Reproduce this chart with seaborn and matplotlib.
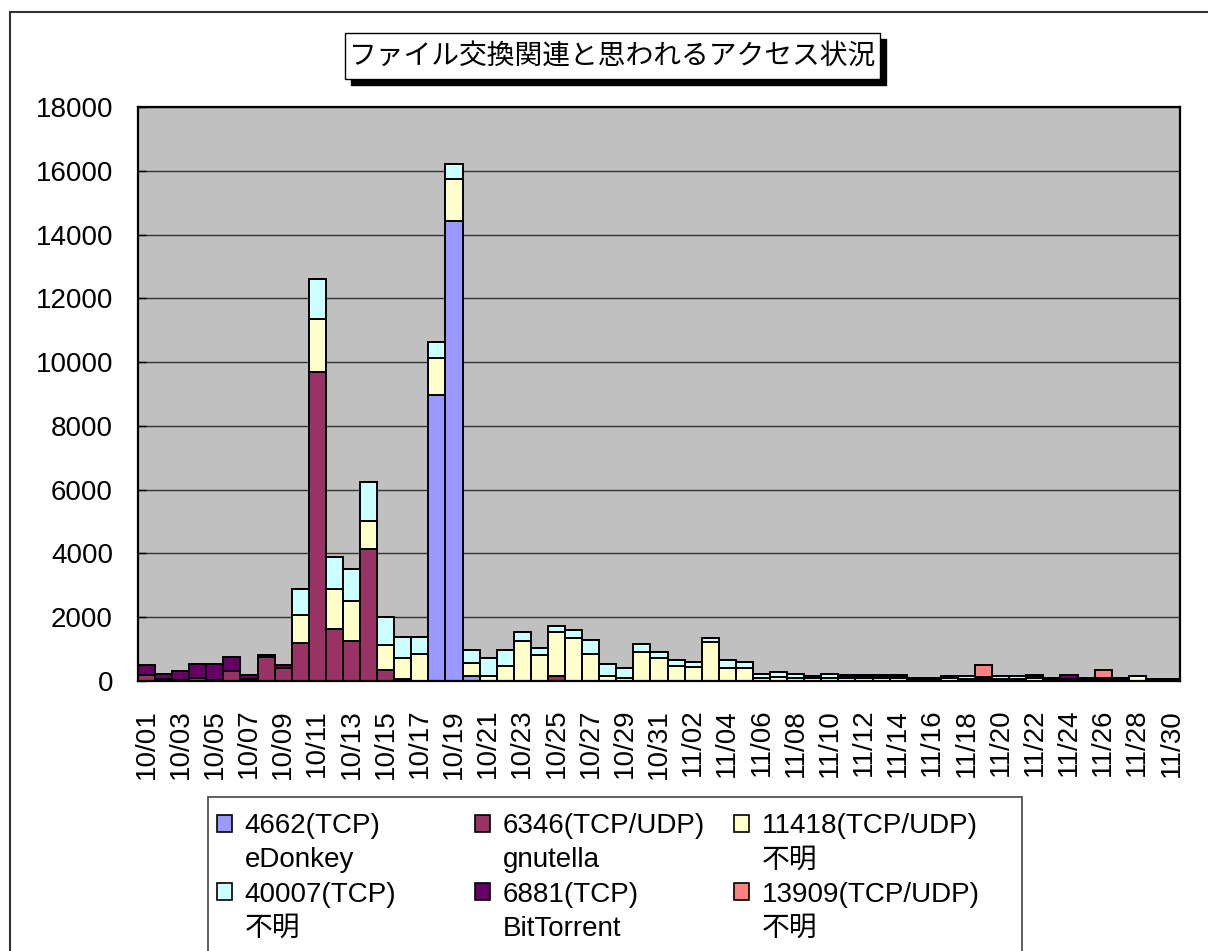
import matplotlib
matplotlib.use("Agg")
import matplotlib.pyplot as plt
from matplotlib.patches import Patch, Rectangle
from matplotlib.lines import Line2D
import numpy as np
import pandas as pd
import seaborn as sns

# ---------------- data ----------------
dates = ["10/01", "10/02", "10/03", "10/04", "10/05", "10/06", "10/07", "10/08", "10/09", "10/10",
         "10/11", "10/12", "10/13", "10/14", "10/15", "10/16", "10/17", "10/18", "10/19", "10/20",
         "10/21", "10/22", "10/23", "10/24", "10/25", "10/26", "10/27", "10/28", "10/29", "10/30",
         "10/31", "11/01", "11/02", "11/03", "11/04", "11/05", "11/06", "11/07", "11/08", "11/09",
         "11/10", "11/11", "11/12", "11/13", "11/14", "11/15", "11/16", "11/17", "11/18", "11/19",
         "11/20", "11/21", "11/22", "11/23", "11/24", "11/25", "11/26", "11/27", "11/28", "11/29",
         "11/30"]

edonkey_4662 = [0, 0, 0, 0, 0, 0, 0, 0, 0, 0,
                0, 0, 0, 0, 0, 0, 0, 8980, 14420, 160,
                0, 0, 0, 0, 0, 0, 0, 0, 0, 0,
                0, 0, 0, 0, 0, 0, 0, 0, 0, 0,
                0, 0, 0, 0, 0, 0, 0, 0, 0, 0,
                0, 0, 0, 0, 0, 0, 0, 0, 0, 0, 0]
gnutella_6346 = [180, 50, 20, 80, 30, 310, 60, 740, 420, 1180,
                 9700, 1620, 1250, 4150, 360, 60, 0, 0, 0, 0,
                 0, 0, 0, 0, 160, 0, 0, 0, 0, 0,
                 0, 0, 0, 0, 0, 0, 0, 0, 0, 0,
                 0, 0, 0, 0, 0, 0, 0, 0, 0, 0,
                 0, 0, 0, 0, 0, 0, 0, 0, 0, 0, 0]
unknown_11418 = [0, 0, 0, 0, 0, 0, 0, 0, 0, 880,
                 1640, 1270, 1260, 880, 780, 670, 860, 1150, 1320, 420,
                 160, 460, 1240, 800, 1390, 1350, 840, 170, 90, 920,
                 720, 460, 450, 1220, 420, 400, 90, 140, 80, 80,
                 80, 80, 80, 80, 80, 30, 30, 80, 60, 40,
                 50, 50, 80, 30, 30, 30, 30, 30, 170, 20, 20]
unknown_40007 = [0, 0, 0, 0, 0, 0, 0, 0, 0, 840,
                 1260, 1010, 1010, 1200, 880, 650, 520, 500, 460, 400,
                 570, 510, 310, 240, 190, 250, 450, 370, 320, 250,
                 200, 200, 150, 130, 240, 210, 120, 150, 140, 60,
                 150, 90, 90, 90, 90, 30, 30, 90, 100, 40,
                 100, 100, 90, 30, 30, 30, 30, 30, 0, 0, 0]
bittorrent_6881 = [310, 160, 290, 440, 490, 450, 130, 80, 90, 0,
                   0, 0, 0, 0, 0, 0, 0, 0, 0, 0,
                   0, 0, 0, 0, 0, 0, 0, 0, 0, 0,
                   0, 0, 0, 0, 0, 0, 0, 0, 0, 20,
                   0, 10, 10, 10, 10, 40, 40, 0, 0, 40,
                   0, 0, 10, 40, 120, 40, 40, 40, 0, 30, 30]
unknown_13909 = [0, 0, 0, 0, 0, 0, 0, 0, 0, 0,
                 0, 0, 0, 0, 0, 0, 0, 0, 0, 0,
                 0, 0, 0, 0, 0, 0, 0, 0, 0, 0,
                 0, 0, 0, 0, 0, 0, 0, 0, 0, 0,
                 0, 0, 0, 0, 0, 0, 0, 0, 0, 370,
                 0, 0, 0, 0, 0, 0, 260, 0, 0, 0, 0]

series_keys = ["4662", "6346", "11418", "40007", "6881", "13909"]
series_values = [edonkey_4662, gnutella_6346, unknown_11418, unknown_40007,
                 bittorrent_6881, unknown_13909]
series_line1 = ["4662(TCP)", "6346(TCP/UDP)", "11418(TCP/UDP)", "40007(TCP)",
                "6881(TCP)", "13909(TCP/UDP)"]
series_line2 = ["eDonkey", "gnutella", "不明", "不明", "BitTorrent", "不明"]
series_colors = ["#9999FF", "#993366", "#FFFFCC", "#CCFFFF", "#660066", "#FF8080"]

y_ticks = [0, 2000, 4000, 6000, 8000, 10000, 12000, 14000, 16000, 18000]
title = "ファイル交換関連と思われるアクセス状況"

# ---------------- build frame ----------------
rows = []
for key, vals in zip(series_keys, series_values):
    for i, v in enumerate(vals):
        rows.append({"idx": i, "value": v, "series": key})
df = pd.DataFrame(rows)

sns.set_theme(style="white")
plt.rcParams['font.family'] = ['Liberation Sans', 'Noto Sans CJK JP', 'DejaVu Sans']
plt.rcParams['text.color'] = 'black'
plt.rcParams['xtick.color'] = 'black'
plt.rcParams['ytick.color'] = 'black'

W, H = 1208, 951
fig = plt.figure(figsize=(W / 100, H / 100), dpi=100)
fig.patch.set_facecolor("white")

ax_left, ax_right, ax_top, ax_bot = 138, 1180, 107, 681
ax = fig.add_axes([ax_left / W, 1 - ax_bot / H, (ax_right - ax_left) / W, (ax_bot - ax_top) / H])
ax.set_facecolor("#C0C0C0")

palette = dict(zip(series_keys, series_colors))
sns.histplot(data=df, x="idx", weights="value", hue="series",
             hue_order=series_keys[::-1], multiple="stack", discrete=True, shrink=1,
             palette=palette, alpha=1, edgecolor="black", linewidth=1.4,
             legend=False, ax=ax)

ax.set_xlim(-0.5, len(dates) - 0.5)
ax.set_ylim(0, 18000)
ax.set_yticks(y_ticks)
ax.set_yticklabels([str(t) for t in y_ticks])
ax.set_xticks(range(0, len(dates), 2))
ax.set_xticklabels(dates[::2], rotation=90, fontsize=20)
ax.set_xticks(np.arange(-0.5, len(dates), 2), minor=True)
ax.tick_params(axis="x", which="major", length=0, pad=20, colors="black")
ax.tick_params(axis="x", which="minor", direction="in", length=5, width=1, color="black")
ax.tick_params(axis="y", direction="in", length=6, width=1, pad=18, labelsize=20,
               colors="black", left=True)
ax.set_xlabel("")
ax.set_ylabel("")
ax.yaxis.grid(True, color="#333333", linewidth=1)
ax.set_axisbelow(True)
for sp in ax.spines.values():
    sp.set_visible(True)
    sp.set_color("black")
    sp.set_linewidth(1.6)

# ---------------- title with shadow box ----------------
bx0, by0, bx1, by1 = 345, 33, 880, 79
sh = 6
fig.add_artist(Rectangle(((bx0 + sh) / W, 1 - (by1 + sh) / H), (bx1 - bx0) / W, (by1 - by0) / H,
                         transform=fig.transFigure, fc="black", ec="black", lw=1, zorder=5))
fig.add_artist(Rectangle((bx0 / W, 1 - by1 / H), (bx1 - bx0) / W, (by1 - by0) / H,
                         transform=fig.transFigure, fc="white", ec="black", lw=1, zorder=6))
fig.text((bx0 + bx1) / 2 / W, 1 - (by0 + by1) / 2 / H, title, fontsize=20, color="black",
         family=["Noto Sans CJK JP", "DejaVu Sans"], ha="center", va="center", zorder=7)

# ---------------- outer chart frame ----------------
fig.add_artist(Line2D([10 / W, 1.0], [1 - 12 / H, 1 - 12 / H], transform=fig.transFigure,
                      color="#333333", lw=1.5))
fig.add_artist(Line2D([10 / W, 10 / W], [0, 1 - 12 / H], transform=fig.transFigure,
                      color="#333333", lw=1.5))

# ---------------- legend (three columns) ----------------
fig.add_artist(Rectangle((208 / W, -10 / H), (1022 - 208) / W, (10 + H - 797) / H,
                         transform=fig.transFigure, fill=False, ec="#444444", lw=1.2))
blank = Patch(facecolor="none", edgecolor="none")
col_x = [217, 475, 734]
col_items = [(0, 3), (1, 4), (2, 5)]
for cx, (a, b) in zip(col_x, col_items):
    handles = [Patch(facecolor=series_colors[a], edgecolor="black", lw=1.2), blank,
               Patch(facecolor=series_colors[b], edgecolor="black", lw=1.2), blank]
    labels = [series_line1[a], series_line2[a], series_line1[b], series_line2[b]]
    fig.legend(handles, labels, loc="upper left", bbox_to_anchor=(cx / W, 1 - 813 / H),
               bbox_transform=fig.transFigure, frameon=False, fontsize=20,
               handlelength=0.55, handleheight=0.55, handletextpad=0.45,
               labelspacing=0.3, borderpad=0, borderaxespad=0, labelcolor="black")

fig.savefig("out.png", dpi=100)
